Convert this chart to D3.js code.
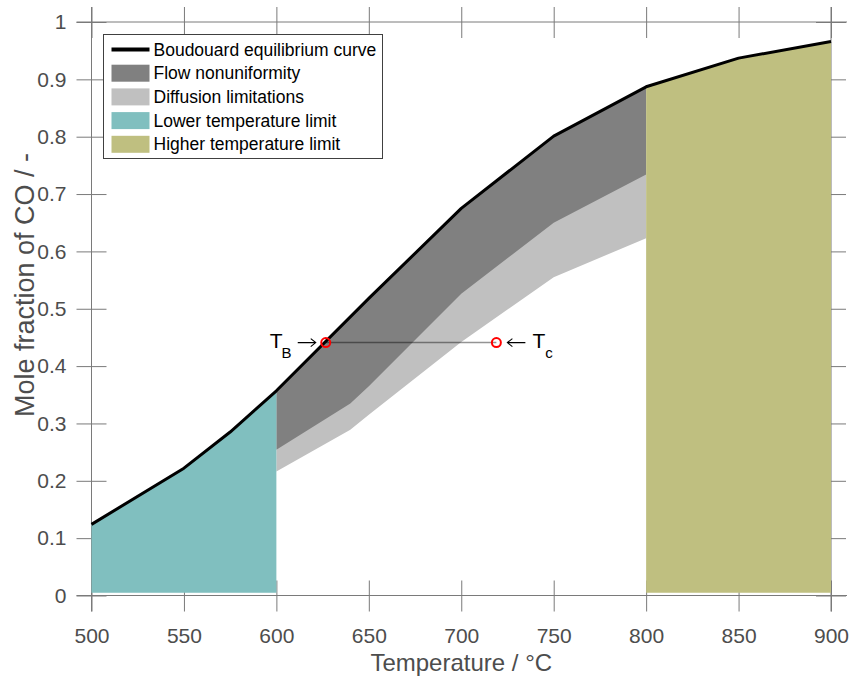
<!DOCTYPE html>
<meta charset="utf-8">
<style>
body { margin: 0; background: #fff; }
svg { font-family: "Liberation Sans", Arial, Helvetica, sans-serif; }
.tick text { fill: #4d4d4d; }
</style>
<svg width="849" height="680"></svg>
<script src="https://cdn.jsdelivr.net/npm/d3@7"></script>
<script>
// Boudouard equilibrium curve
var curveTemp = [500, 550, 575, 600, 650, 700, 750, 800, 850, 900];
var curveCO   = [0.124, 0.222, 0.285, 0.357, 0.518, 0.675, 0.801, 0.887, 0.937, 0.966];

// lower edge of the two shaded bands (upper edge is the curve)
var bandTemp  = [600, 640, 650, 700, 750, 800];
var flowLower = [0.254, 0.335, 0.365, 0.526, 0.650, 0.734];
var diffLower = [0.216, 0.289, 0.315, 0.442, 0.555, 0.623];

// temperature limits
var lowerLimit  = [500, 600];
var higherLimit = [800, 900];
var limitBase = 0.005;

// T_B / T_c markers
var markerTemp = [626.7, 719];
var markerCO = 0.441;

var xTicks = [500, 550, 600, 650, 700, 750, 800, 850, 900];
var yTicks = [0, 0.1, 0.2, 0.3, 0.4, 0.5, 0.6, 0.7, 0.8, 0.9, 1];

var legendItems = [
  {label: "Boudouard equilibrium curve", type: "line", color: "#000"},
  {label: "Flow nonuniformity", type: "rect", color: "#808080"},
  {label: "Diffusion limitations", type: "rect", color: "#c0c0c0"},
  {label: "Lower temperature limit", type: "rect", color: "#80bfbf"},
  {label: "Higher temperature limit", type: "rect", color: "#bfbf80"}
];

var svg = d3.select("svg");

var x = d3.scaleLinear().domain([500, 900]).range([91.5, 831]);
var y = d3.scaleLinear().domain([0, 1]).range([595.5, 22]);

var tick = 15, axisColor = "#7a7a7a";

function styleAxis(g) {
  g.select(".domain").remove();
  g.selectAll(".tick line").attr("stroke", axisColor);
  g.selectAll(".tick text").attr("font-size", 21);
}

var axes = svg.append("g");

// bottom and top horizontal axes, ticks crossing the line
[0, 1].forEach(function(v) {
  axes.append("g").attr("transform", "translate(0," + y(v) + ")")
      .call(d3.axisBottom(x).tickValues(xTicks).tickSize(tick + 1).tickPadding(17)
        .tickFormat(v === 0 ? d3.format("d") : ""))
      .call(styleAxis);
  axes.append("g").attr("transform", "translate(0," + y(v) + ")")
      .call(d3.axisTop(x).tickValues(xTicks).tickSize(tick).tickFormat(""))
      .call(styleAxis);
  axes.append("line")
      .attr("x1", x(500) - tick).attr("x2", x(900) + tick + 1)
      .attr("y1", y(v)).attr("y2", y(v))
      .attr("stroke", axisColor);
});

// left and right vertical axes
[500, 900].forEach(function(v) {
  axes.append("g").attr("transform", "translate(" + x(v) + ",0)")
      .call(d3.axisLeft(y).tickValues(yTicks).tickSize(tick).tickPadding(10)
        .tickFormat(v === 500 ? function(d) { return d3.format("")(d); } : ""))
      .call(styleAxis);
  axes.append("g").attr("transform", "translate(" + x(v) + ",0)")
      .call(d3.axisRight(y).tickValues(yTicks).tickSize(tick).tickFormat(""))
      .call(styleAxis);
  axes.append("line")
      .attr("x1", x(v)).attr("x2", x(v))
      .attr("y1", y(1) - tick).attr("y2", y(0) + tick + 1)
      .attr("stroke", axisColor);
});

var curve = curveTemp.map(function(t, i) { return [t, curveCO[i]]; });

function curveBetween(a, b) {
  return curve.filter(function(d) { return d[0] >= a && d[0] <= b; });
}

var line = d3.line()
    .x(function(d) { return x(d[0]); })
    .y(function(d) { return y(d[1]); });

function band(lower, color) {
  var top = curveBetween(bandTemp[0], bandTemp[bandTemp.length - 1]);
  var bottom = bandTemp.map(function(t, i) { return [t, lower[i]]; }).reverse();
  svg.append("path")
      .attr("d", line(top.concat(bottom)) + "Z")
      .attr("fill", color);
}

function limit(range, color) {
  var top = curveBetween(range[0], range[1]);
  var pts = top.concat([[range[1], limitBase], [range[0], limitBase]]);
  svg.append("path")
      .attr("d", line(pts) + "Z")
      .attr("fill", color);
}

band(diffLower, "#c0c0c0");
band(flowLower, "#808080");
limit(lowerLimit, "#80bfbf");
limit(higherLimit, "#bfbf80");

svg.append("path")
    .attr("d", line(curve))
    .attr("fill", "none")
    .attr("stroke", "#000")
    .attr("stroke-width", 3)
    .attr("stroke-linejoin", "round");

// T_B - T_c connection
svg.append("line")
    .attr("x1", x(markerTemp[0])).attr("x2", x(markerTemp[1]))
    .attr("y1", y(markerCO)).attr("y2", y(markerCO))
    .attr("stroke", "#000").attr("stroke-opacity", 0.42).attr("stroke-width", 1.5);

svg.selectAll(".marker")
    .data(markerTemp)
  .enter().append("circle")
    .attr("class", "marker")
    .attr("cx", function(d) { return x(d); })
    .attr("cy", y(markerCO))
    .attr("r", 4.5)
    .attr("fill", "none")
    .attr("stroke", "#f00")
    .attr("stroke-width", 2);

// thin text-like arrows pointing at the markers
function arrow(tipX, dir) {
  var yy = y(markerCO), len = 18;
  svg.append("path")
      .attr("d", "M" + (tipX - dir * len) + "," + yy + "H" + tipX +
                 "M" + (tipX - dir * 5) + "," + (yy - 4) + "L" + tipX + "," + yy +
                 "L" + (tipX - dir * 5) + "," + (yy + 4))
      .attr("fill", "none").attr("stroke", "#000").attr("stroke-width", 1.1);
}
arrow(x(markerTemp[0]) - 10, 1);
arrow(x(markerTemp[1]) + 11, -1);

var tb = svg.append("text")
    .attr("x", x(markerTemp[0]) - 56).attr("y", y(markerCO) + 5)
    .attr("font-size", 21).attr("fill", "#000");
tb.append("tspan").text("T");
tb.append("tspan").attr("font-size", 15).attr("dy", 10).attr("dx", -1).text("B");

var tc = svg.append("text")
    .attr("x", x(markerTemp[1]) + 36).attr("y", y(markerCO) + 5)
    .attr("font-size", 21).attr("fill", "#000");
tc.append("tspan").text("T");
tc.append("tspan").attr("font-size", 15).attr("dy", 10).attr("dx", 0).text("c");

// legend
var legend = svg.append("g").attr("transform", "translate(103.5,34.5)");
legend.append("rect")
    .attr("width", 279).attr("height", 124)
    .attr("fill", "#fff").attr("stroke", "#404040");

var row = legend.selectAll(".row")
    .data(legendItems)
  .enter().append("g")
    .attr("transform", function(d, i) { return "translate(0," + (15 + i * 23.7) + ")"; });

row.filter(function(d) { return d.type === "line"; }).append("line")
    .attr("x1", 8).attr("x2", 46)
    .attr("stroke", function(d) { return d.color; })
    .attr("stroke-width", 4);

row.filter(function(d) { return d.type === "rect"; }).append("rect")
    .attr("x", 8).attr("y", -8.5).attr("width", 38).attr("height", 17)
    .attr("fill", function(d) { return d.color; });

row.append("text")
    .attr("x", 50).attr("y", 6)
    .attr("font-size", 17.5)
    .text(function(d) { return d.label; });

// axis titles
svg.append("text")
    .attr("x", (x(500) + x(900)) / 2).attr("y", 671)
    .attr("text-anchor", "middle").attr("font-size", 24).attr("fill", "#4d4d4d")
    .text("Temperature / \u00b0C");

svg.append("text")
    .attr("transform", "translate(34,285) rotate(-90)")
    .attr("text-anchor", "middle").attr("font-size", 27).attr("fill", "#4d4d4d")
    .text("Mole fraction of CO / -");
</script>
